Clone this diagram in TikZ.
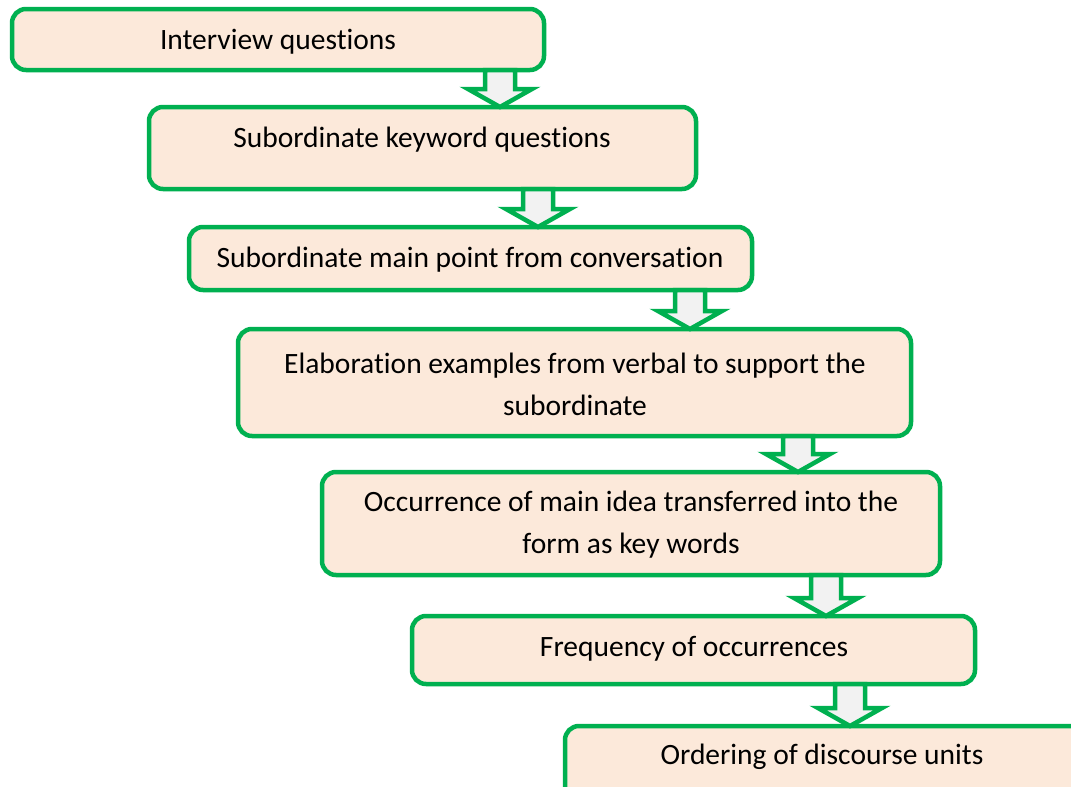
\documentclass[tikz,border=0pt]{standalone}
\usepackage{fontspec}
\setmainfont[Ligatures=NoCommon]{Carlito}
\usetikzlibrary{calc}
\definecolor{boxgreen}{HTML}{00B050}
\definecolor{boxfill}{HTML}{FCE9DA}
\definecolor{arrowfill}{HTML}{F2F2F2}
\tikzset{
  stepbox/.style={draw=boxgreen, line width=4.5pt, fill=boxfill, rounded corners=14pt, inner sep=0pt, outer sep=0pt},
  lbl/.style={font=\fontsize{29.5}{42}\selectfont, align=center, inner sep=0pt, text=black},
  blockarrow/.style={draw=boxgreen, line width=4.5pt, fill=arrowfill, line join=miter}
}
\newcommand{\blockarr}[3]{%
  \draw[blockarrow] let \p1=(#2.south), \p2=(#3.north) in
    ({#1-15},{\y1}) -- ({#1-15},{\y2+18pt}) -- ({#1-32},{\y2+18pt}) -- ({#1},{\y2})
    -- ({#1+32},{\y2+18pt}) -- ({#1+15},{\y2+18pt}) -- ({#1+15},{\y1}) -- cycle;}
\begin{document}
\begin{tikzpicture}[x=1pt,y=-1pt]
\useasboundingbox (0,0) rectangle (1071,787);
\clip (0,0) rectangle (1071,787);
\node[stepbox, minimum width=532pt, minimum height=61pt] (b1) at (278,39.5) {};
\node[stepbox, minimum width=547pt, minimum height=82pt] (b2) at (422.5,148) {};
\node[stepbox, minimum width=563pt, minimum height=63pt] (b3) at (470.5,258.5) {};
\node[stepbox, minimum width=673pt, minimum height=107pt] (b4) at (574.5,382.5) {};
\node[stepbox, minimum width=618pt, minimum height=103pt] (b5) at (631,523.5) {};
\node[stepbox, minimum width=563pt, minimum height=68pt] (b6) at (693.5,650) {};
\node[stepbox, minimum width=560pt, minimum height=90pt] (b7) at (845,771) {};
\node[lbl] (t1) at (278,42) {Interview questions};
\node[lbl] (t2) at (422,140) {Subordinate keyword questions};
\node[lbl] (t3) at (470,260) {Subordinate main point from conversation};
\node[lbl] (t4) at (575,384) {Elaboration examples from verbal to support the\\subordinate};
\node[lbl] (t5) at (631,525) {Occurrence of main idea transferred into the\\form as key words};
\node[lbl] (t6) at (694,649) {Frequency of occurrences};
\node[lbl] (t7) at (822,757) {Ordering of discourse units};
\blockarr{500}{b1}{b2}
\blockarr{538}{b2}{b3}
\blockarr{690}{b3}{b4}
\blockarr{798}{b4}{b5}
\blockarr{826}{b5}{b6}
\blockarr{850}{b6}{b7}
\end{tikzpicture}
\end{document}
